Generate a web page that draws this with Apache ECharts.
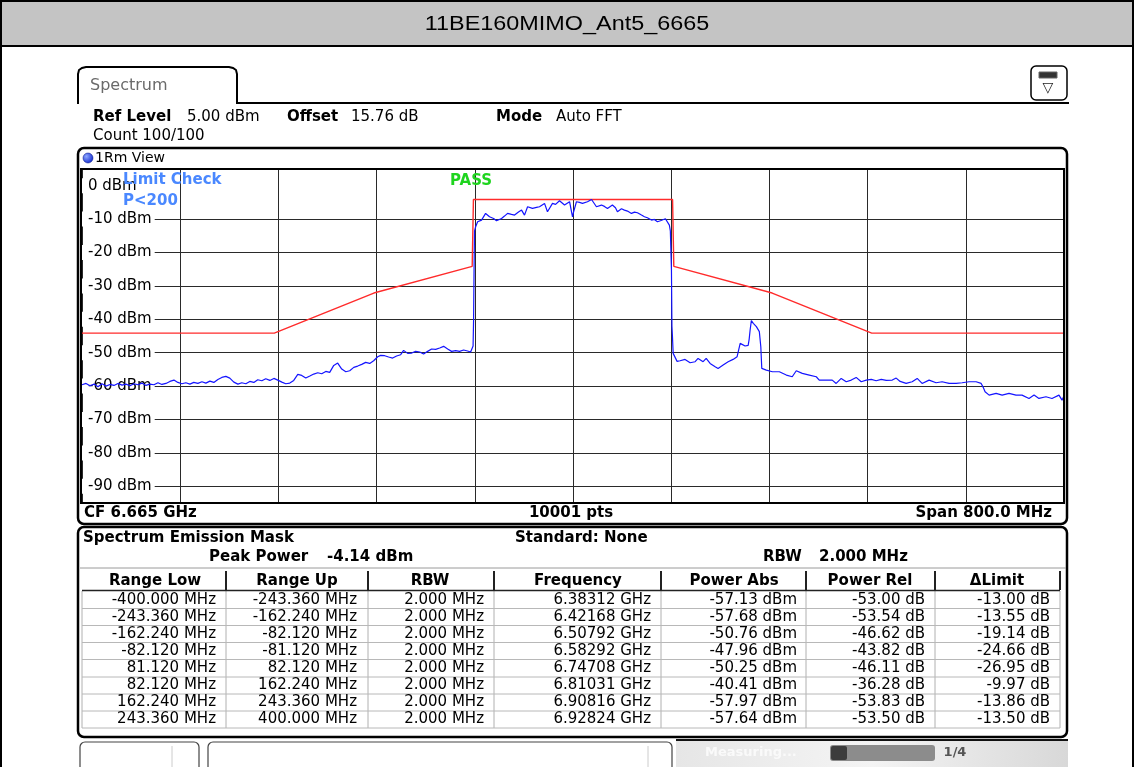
<!DOCTYPE html>
<html>
<head>
<meta charset="utf-8">
<script src="https://cdn.jsdelivr.net/npm/echarts@6/dist/echarts.min.js"></script>
<style>html,body{margin:0;padding:0;background:#fff;}#c{width:1134px;height:767px;}</style>
</head>
<body>
<div id="c"></div>
<script>
// ---------- data ----------
const titleText = '11BE160MIMO_Ant5_6665';
const freqMHz = [
-400.0,-396.7,-393.5,-390.2,-387.0,-383.7,-380.5,-377.2,-374.0,-370.7,-367.4,-364.2,-360.9,-357.7,-354.4,-351.2,-347.9,-344.7,-341.4,-338.1,
-334.9,-331.6,-328.4,-325.1,-321.9,-318.6,-315.4,-312.1,-308.9,-305.6,-302.3,-299.1,-295.8,-292.6,-289.3,-286.1,-282.8,-279.6,-276.3,-273.0,
-269.8,-266.5,-263.3,-260.0,-256.8,-253.5,-250.3,-247.0,-243.7,-240.5,-237.2,-234.0,-230.7,-227.5,-224.2,-221.0,-217.7,-214.4,-211.2,-207.9,
-204.7,-201.4,-198.2,-194.9,-191.7,-188.4,-185.1,-181.9,-178.6,-175.4,-172.1,-168.9,-165.6,-162.4,-159.1,-156.7,-153.4,-150.2,-146.9,-143.7,
-140.4,-138.0,-134.7,-131.4,-128.2,-124.9,-121.7,-118.4,-115.2,-111.9,-108.6,-105.4,-102.1,-98.9,-95.6,-92.4,-89.1,-85.9,-83.4,-82.1,
-81.4,-81.0,-80.6,-80.2,-79.3,-77.7,-74.5,-71.2,-68.0,-64.7,-62.3,-58.2,-55.8,-53.3,-50.1,-47.6,-44.4,-41.9,-39.5,-37.0,
-33.0,-29.7,-27.3,-23.2,-20.8,-16.7,-14.2,-11.0,-6.9,-2.8,-0.4,0.4,2.8,5.3,7.7,11.8,15.1,16.7,19.1,23.2,
25.6,28.1,32.1,34.6,36.2,39.5,41.9,44.4,47.6,50.1,52.5,55.8,58.2,60.6,63.9,66.3,68.8,71.2,72.8,75.3,
76.9,78.5,79.3,80.2,80.6,81.0,81.6,82.1,84.8,87.2,91.3,95.4,99.5,101.9,106.0,108.5,111.7,115.8,118.2,122.3,
126.4,130.4,133.7,134.9,136.2,140.2,142.7,143.5,144.3,145.3,146.9,149.4,151.8,153.0,153.8,157.5,162.4,168.1,173.8,178.6,
181.9,186.8,192.5,198.2,200.6,206.3,211.2,214.4,218.5,222.6,226.7,230.7,234.8,238.9,243.0,247.0,251.1,255.2,260.1,263.3,
266.5,271.4,276.3,280.4,284.4,290.1,295.8,300.7,306.4,312.1,317.0,322.7,328.4,332.5,334.1,335.7,339.0,344.7,349.6,355.2,
360.9,365.8,371.5,375.6,379.6,385.3,390.2,395.9,398.4,400.0
];
const traceDbm = [
-59.6,-59.2,-59.9,-59.4,-60.2,-59.3,-60.0,-59.5,-59.8,-59.2,-59.7,-59.4,-59.9,-59.3,-59.6,-59.1,-59.8,-59.4,-59.6,-59.0,
-59.5,-59.2,-58.6,-58.2,-58.9,-59.3,-59.0,-59.4,-58.9,-59.2,-58.7,-59.1,-58.5,-58.9,-58.0,-57.4,-57.1,-57.6,-58.8,-59.4,
-59.0,-59.3,-58.6,-58.9,-58.1,-58.4,-57.8,-58.3,-57.7,-58.2,-58.8,-59.3,-59.1,-58.3,-56.5,-56.8,-57.6,-57.0,-56.4,-56.0,
-56.3,-55.6,-55.9,-53.8,-53.1,-54.9,-55.7,-55.4,-54.4,-54.0,-53.5,-52.9,-53.2,-52.4,-51.2,-50.8,-50.9,-51.3,-51.6,-51.0,
-50.6,-49.3,-50.2,-50.1,-49.6,-49.8,-50.4,-49.6,-48.9,-49.0,-48.6,-48.1,-48.9,-49.6,-49.4,-49.6,-49.2,-49.5,-49.8,-49.6,
-48.0,-40.5,-25.0,-13.5,-12.3,-10.8,-10.3,-8.3,-9.3,-9.8,-10.5,-9.8,-9.1,-8.3,-8.6,-8.8,-7.9,-7.3,-8.8,-6.3,
-6.8,-6.5,-6.3,-5.3,-7.8,-5.3,-5.6,-4.5,-5.8,-4.8,-9.3,-8.0,-4.8,-5.0,-5.3,-4.8,-4.14,-4.5,-6.3,-5.8,
-6.2,-6.8,-5.8,-6.6,-7.8,-6.9,-7.3,-7.6,-8.3,-7.9,-8.1,-8.8,-9.3,-9.6,-10.3,-10.1,-10.8,-10.5,-10.3,-9.9,
-9.8,-11.8,-13.5,-25.0,-42.0,-45.0,-50.2,-50.3,-52.6,-52.4,-52.0,-53.0,-52.7,-51.7,-52.7,-51.7,-53.2,-54.2,-54.7,-53.7,
-52.7,-52.0,-51.2,-51.0,-47.2,-48.0,-47.8,-46.0,-43.2,-40.41,-41.2,-42.2,-43.7,-48.2,-54.7,-55.2,-55.7,-55.7,-56.7,-57.2,
-55.4,-56.2,-56.7,-57.2,-58.2,-58.2,-58.2,-59.2,-57.7,-58.7,-58.2,-57.4,-58.7,-58.2,-58.0,-58.4,-58.0,-58.3,-58.2,-57.6,
-58.6,-59.2,-58.7,-57.7,-59.2,-58.2,-59.0,-58.7,-59.2,-59.2,-59.0,-58.7,-58.7,-59.2,-60.3,-61.7,-62.7,-62.2,-62.7,-62.2,
-62.7,-62.7,-63.7,-62.7,-63.7,-63.2,-63.7,-62.7,-64.2,-62.9
];
const limitFreqMHz = [-400, -243.36, -162.24, -82.12, -81.12, 81.12, 82.12, 162.24, 243.36, 400];
const limitDbm = [-44.14, -44.14, -32.14, -24.14, -4.14, -4.14, -24.14, -32.14, -44.14, -44.14];
const yGridValues = [-10, -20, -30, -40, -50, -60, -70, -80, -90];
const yLabelValues = [0, -10, -20, -30, -40, -50, -60, -70, -80, -90];

const tableHeaders = ['Range Low', 'Range Up', 'RBW', 'Frequency', 'Power Abs', 'Power Rel', '\u0394Limit'];
const rangeLow = ['-400.000 MHz','-243.360 MHz','-162.240 MHz','-82.120 MHz','81.120 MHz','82.120 MHz','162.240 MHz','243.360 MHz'];
const rangeUp = ['-243.360 MHz','-162.240 MHz','-82.120 MHz','-81.120 MHz','82.120 MHz','162.240 MHz','243.360 MHz','400.000 MHz'];
const rbwCol = ['2.000 MHz','2.000 MHz','2.000 MHz','2.000 MHz','2.000 MHz','2.000 MHz','2.000 MHz','2.000 MHz'];
const freqCol = ['6.38312 GHz','6.42168 GHz','6.50792 GHz','6.58292 GHz','6.74708 GHz','6.81031 GHz','6.90816 GHz','6.92824 GHz'];
const powerAbs = ['-57.13 dBm','-57.68 dBm','-50.76 dBm','-47.96 dBm','-50.25 dBm','-40.41 dBm','-57.97 dBm','-57.64 dBm'];
const powerRel = ['-53.00 dB','-53.54 dB','-46.62 dB','-43.82 dB','-46.11 dB','-36.28 dB','-53.83 dB','-53.50 dB'];
const deltaLimit = ['-13.00 dB','-13.55 dB','-19.14 dB','-24.66 dB','-26.95 dB','-9.97 dB','-13.86 dB','-13.50 dB'];

// ---------- layout helpers ----------
const FONT = 'DejaVu Sans';
const G = [];
function txt(x, y, s, o) {
  o = o || {};
  G.push({type:'text', x:x, y:y, z: o.z || 50, silent:true,
    style:{text:s, fill:o.color||'#000', font:(o.bold?'bold ':'') + (o.size||15) + 'px ' + (o.family||('"'+FONT+'"')),
      textAlign:o.align||'left', textVerticalAlign:'middle'},
    scaleX:o.scaleX||1});
}
function rect(x, y, w, h, o) {
  o = o || {};
  G.push({type:'rect', z:o.z||40, silent:true, shape:{x:x,y:y,width:w,height:h,r:o.r||0},
    style:{fill:o.fill||'none', stroke:o.stroke||'none', lineWidth:o.lw||1}});
}
function line(x1, y1, x2, y2, color, lw, z) {
  G.push({type:'line', z:z||45, silent:true, shape:{x1:x1,y1:y1,x2:x2,y2:y2}, style:{stroke:color, lineWidth:lw||1}});
}

// title bar
rect(0, 0, 1134, 46, {fill:'#c4c4c4'});
rect(0, 0, 1134, 2, {fill:'#000'});
rect(0, 45, 1134, 2, {fill:'#000'});
rect(0, 0, 2, 767, {fill:'#000'});
rect(1132, 0, 2, 767, {fill:'#000'});
txt(567, 24, titleText, {size:20, family:'"Liberation Sans", Arial', align:'center', scaleX:1.17});

// spectrum tab
G.push({type:'polyline', z:45, silent:true,
  shape:{points:[[78,104],[78,74],[79,70],[82,68],[86,67],[229,67],[233,68],[236,70],[237,74],[237,103],[1069,103]]},
  style:{fill:'none', stroke:'#000', lineWidth:2}});
txt(90, 86, 'Spectrum', {size:16, color:'#6a6a6a'});
rect(1031, 66, 36, 34, {r:5, stroke:'#000', lw:1.5, fill:'#fff'});
rect(1039, 72, 18, 6, {fill:'#333', stroke:'#666', lw:1});
txt(1048, 88, '\u25BD', {size:14, align:'center', color:'#222'});

// header lines
txt(93, 117, 'Ref Level', {bold:true});
txt(187, 117, '5.00 dBm');
txt(287, 117, 'Offset', {bold:true});
txt(351, 117, '15.76 dB');
txt(496, 117, 'Mode', {bold:true});
txt(556, 117, 'Auto FFT');
txt(93, 136, 'Count 100/100');

// diagram frame
rect(78, 148, 989, 376, {r:6, stroke:'#000', lw:2.5, z:60});
G.push({type:'circle', z:55, silent:true, shape:{cx:88, cy:158, r:5},
  style:{fill:{type:'radial', x:0.35, y:0.35, r:0.8, colorStops:[{offset:0,color:'#8fa8ff'},{offset:1,color:'#0018c8'}]}, stroke:'#001080', lineWidth:0.5}});
txt(95, 158, '1Rm View', {size:14});
rect(81, 169, 983, 334, {stroke:'#000', lw:2, z:46});
txt(123, 180, 'Limit Check', {bold:true, color:'#4a88ff', z:70});
txt(123, 201, 'P<200', {bold:true, color:'#4a88ff', z:70});
txt(450, 181, 'PASS', {bold:true, color:'#1fd41f', z:70});
txt(84, 513, 'CF 6.665 GHz', {bold:true});
txt(571, 513, '10001 pts', {bold:true, align:'center'});
txt(1052, 513, 'Span 800.0 MHz', {bold:true, align:'right'});

// table frame
rect(78, 527, 989, 210, {r:6, stroke:'#000', lw:2.5});
txt(83, 538, 'Spectrum Emission Mask', {bold:true});
txt(515, 538, 'Standard: None', {bold:true});
txt(209, 557, 'Peak Power', {bold:true});
txt(327, 557, '-4.14 dBm', {bold:true});
txt(763, 557, 'RBW', {bold:true});
txt(819, 557, '2.000 MHz', {bold:true});
line(80, 568, 1066, 568, '#9a9a9a', 1);

const colSep = [82, 226, 368, 494, 661, 806, 935, 1060];
const headCenters = [155, 297, 430, 578, 734, 870, 997];
const rightEdges = [216, 357, 484, 651, 797, 925, 1050];
const rowY = [600, 617, 634, 651, 668.5, 685.5, 702.5, 719.5];
headCenters.forEach((cx, i) => txt(cx, 581, tableHeaders[i], {bold:true, align:'center'}));
for (let i = 1; i < colSep.length; i++) {
  line(colSep[i], 571, colSep[i], 590, '#222', 2);
  line(colSep[i], 591, colSep[i], 728, '#b0b0b0', 1);
}
line(82, 591, 82, 728, '#b0b0b0', 1);
line(82, 590.5, 1060, 590.5, '#222', 1.5);
rowY.forEach(y => line(82, y + 8.5, 1060, y + 8.5, '#b8b8b8', 1));
const cols = [rangeLow, rangeUp, rbwCol, freqCol, powerAbs, powerRel, deltaLimit];
cols.forEach((col, c) => col.forEach((s, r) => txt(rightEdges[c], rowY[r], s, {align:'right'})));

// bottom status bar
rect(80, 742, 119, 30, {r:5, stroke:'#444', lw:1.2, fill:'#fff'});
line(172, 746, 172, 767, '#ccc', 1);
rect(208, 742, 464, 30, {r:5, stroke:'#444', lw:1.2, fill:'#fff'});
line(648, 746, 648, 767, '#ccc', 1);
G.push({type:'rect', z:40, silent:true, shape:{x:676, y:740, width:392, height:27},
  style:{fill:{type:'linear', x:0, y:0, x2:1, y2:0, colorStops:[{offset:0,color:'#e6e6e6'},{offset:0.5,color:'#f4f4f4'},{offset:1,color:'#d8d8d8'}]}}});
line(676, 740, 1068, 740, '#111', 2);
txt(705, 753, 'Measuring...', {size:13, color:'#fafafa', bold:true});
rect(830, 745, 105, 16, {r:3, fill:'#8c8c8c'});
rect(831, 746, 16, 14, {r:2, fill:'#3c3c3c'});
txt(955, 753, '1/4', {size:13, bold:true, color:'#555', align:'center'});

// ---------- chart ----------
const chart = echarts.init(document.getElementById('c'), null, {renderer:'canvas'});
const tracePairs = freqMHz.map((f, i) => [f, traceDbm[i]]);
const limitPairs = limitFreqMHz.map((f, i) => [f, limitDbm[i]]);
chart.setOption({
  animation:false,
  backgroundColor:'#fff',
  grid:{left:82, top:169, width:982, height:334, show:false},
  xAxis:{type:'value', min:-400, max:400, interval:80,
    axisLine:{show:false}, axisTick:{show:false}, axisLabel:{show:false},
    splitLine:{show:true, lineStyle:{color:'#2a2a2a', width:1}}},
  yAxis:[
    {type:'value', min:-95, max:5,
      axisLine:{show:false}, axisTick:{show:false, customValues:yGridValues}, axisLabel:{show:false},
      splitLine:{show:true, lineStyle:{color:'#2a2a2a', width:1}}},
    {type:'value', min:-95, max:5, position:'left', offset:0, z:1,
      axisLine:{show:false}, axisTick:{show:false, customValues:yLabelValues}, splitLine:{show:false},
      axisLabel:{inside:true, margin:0, customValues:yLabelValues, formatter:v => v + ' dBm',
        backgroundColor:'#fff', padding:[0,3,0,6], color:'#000', fontFamily:FONT, fontSize:15}}
  ],
  series:[
    {type:'line', name:'Limit', data:limitPairs, symbol:'none', z:3,
      lineStyle:{color:'#ff2b2b', width:1.4}},
    {type:'line', name:'Trace', data:tracePairs, symbol:'none', z:4,
      lineStyle:{color:'#1414ff', width:1.2}}
  ],
  graphic:{elements:G}
});
</script>
</body>
</html>
